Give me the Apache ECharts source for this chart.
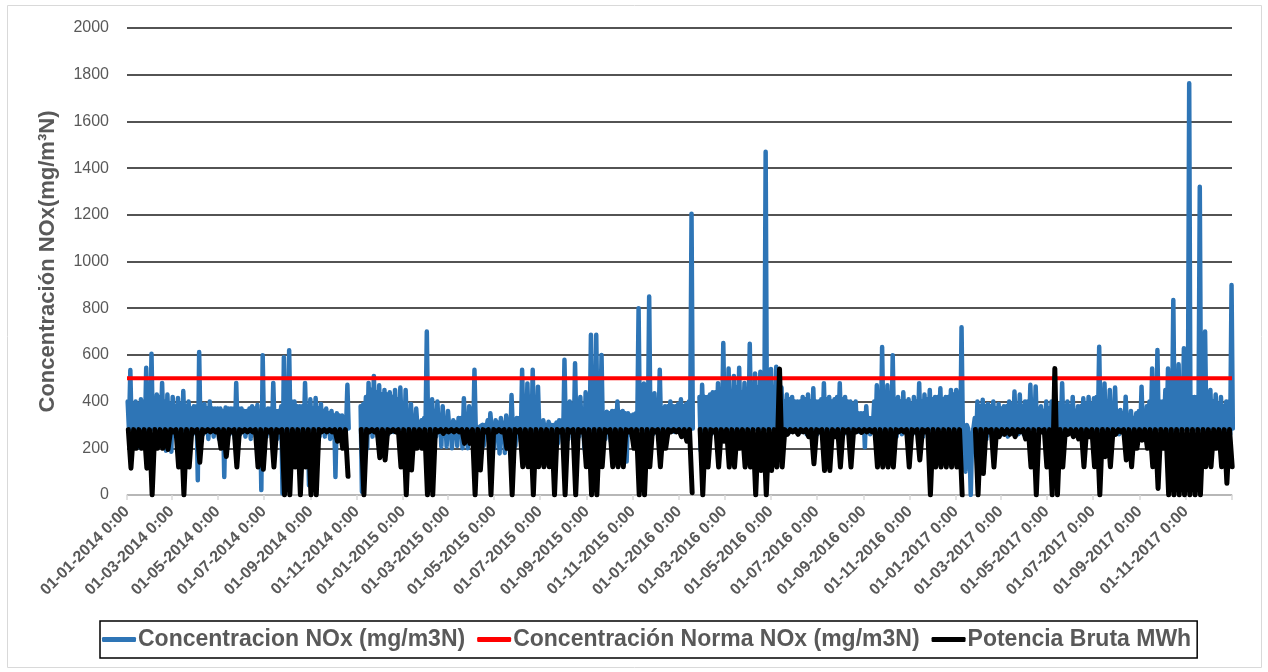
<!DOCTYPE html>
<html>
<head>
<meta charset="utf-8">
<script src="https://cdn.jsdelivr.net/npm/echarts@6/dist/echarts.min.js"></script>
<style>
html,body{margin:0;padding:0;background:#fff;}
#chart{width:1268px;height:672px;}
</style>
</head>
<body>
<div id="chart"></div>
<script>
// Time grid: weekly buckets starting 01-01-2014 (week i covers days 7i .. 7i+6)
const startYear = 2014;
const endYear = 2018;
const tickMonths = [1, 3, 5, 7, 9, 11];

// Concentracion NOx (mg/m3N): weekly peak, weekly dense-band top and weekly low
const noxHigh = [
  535,400,410,545,605,430,480,430,420,415,
  445,400,380,612,390,400,370,370,375,370,
  480,370,360,380,385,598,370,480,360,590,
  620,400,380,480,410,415,390,370,360,350,
  340,472,null,null,390,480,510,470,450,440,
  450,460,450,390,370,320,700,410,400,380,
  360,320,330,414,380,536,293,300,350,320,
  330,340,428,330,536,478,536,464,320,314,
  300,320,579,400,564,420,440,686,686,600,
  357,360,400,360,350,345,800,478,850,436,
  536,380,400,380,410,390,1205,null,472,420,
  440,479,651,542,510,545,480,648,520,528,
  1470,540,549,460,430,420,400,420,430,457,
  400,479,420,410,479,420,400,400,350,380,
  330,470,634,470,598,420,440,410,420,479,
  430,450,420,457,420,450,450,718,300,250,
  400,408,390,400,390,380,400,443,430,400,
  472,465,380,400,400,380,479,400,420,380,
  414,420,414,635,478,450,460,364,421,360,
  350,464,380,542,621,400,542,835,560,628,
  1763,420,1320,700,450,430,420,400,899
];
const noxBand = [
  400,390,390,400,420,410,420,400,390,380,
  390,380,370,380,370,370,370,370,360,370,
  370,370,360,370,370,360,360,370,360,380,
  400,400,380,380,380,370,370,360,350,340,
  340,330,null,null,380,420,450,440,430,430,
  420,410,370,350,320,310,330,350,360,340,
  320,300,310,330,330,300,290,300,320,300,
  310,310,320,320,330,340,330,320,310,300,
  300,310,320,330,340,340,350,360,360,350,
  350,350,360,355,350,340,350,360,360,350,
  360,370,380,380,390,380,400,null,420,420,
  430,440,450,450,440,460,440,450,460,460,
  470,470,460,420,400,410,400,400,410,400,
  400,410,410,400,420,410,400,390,350,350,
  330,400,430,420,420,410,400,400,390,400,
  400,410,410,420,410,420,430,350,280,200,
  330,380,380,380,370,370,380,390,380,380,
  400,400,370,360,370,380,390,380,380,360,
  380,390,390,420,410,400,390,360,350,330,
  330,360,360,400,420,400,450,480,460,450,
  440,420,420,420,410,400,390,380,400
];
const noxLow = [
  280,210,205,250,250,260,260,190,185,250,
  200,220,260,63,260,240,250,240,77,260,
  240,260,250,240,250,21,250,260,240,7,
  200,240,220,220,42,250,250,250,240,77,
  240,280,null,null,14,200,250,250,204,260,
  270,260,250,207,250,270,260,250,250,207,
  207,200,210,200,200,230,207,210,230,200,
  178,180,200,210,230,230,200,230,200,200,
  200,220,220,240,220,250,200,220,200,250,
  240,230,250,230,143,250,280,250,250,260,
  260,250,290,270,280,290,280,null,190,261,
  260,260,260,260,270,260,270,260,280,270,
  270,280,280,280,270,270,270,270,260,270,
  260,260,270,270,270,260,260,270,270,204,
  260,250,240,240,250,250,260,250,260,260,
  250,250,260,260,260,260,250,200,100,0,
  200,220,240,250,260,260,250,270,260,260,
  270,270,270,260,270,270,270,260,270,260,
  264,270,250,270,260,260,270,260,250,207,
  230,250,250,260,260,270,260,260,260,280,
  280,270,270,260,270,270,230,240,260
];
// bottom edge of the dense blue band, just at the black line
const noxBandBottom = 285;

// Concentración Norma NOx (mg/m3N)
const normaValue = 500;

// Potencia Bruta MWh: usual top level, weekly lows, and the two upward peaks
const potenciaTop = 280;
const potenciaLow = [
  115,200,200,115,0,200,200,195,270,120,
  0,120,270,140,270,270,270,200,165,270,
  120,270,270,270,120,110,270,120,270,0,
  0,120,0,120,0,0,270,270,270,230,
  200,80,null,null,0,270,270,160,150,270,
  270,120,0,107,200,200,0,0,270,264,
  270,270,270,221,221,0,107,270,0,270,
  270,200,0,270,121,121,0,121,121,121,
  0,270,0,270,0,270,121,0,0,121,
  270,121,121,121,270,200,0,0,121,270,
  121,200,270,270,250,230,10,null,0,120,
  270,120,230,120,120,200,120,120,0,105,
  0,105,120,120,260,270,260,270,250,134,
  270,105,105,250,120,270,120,270,268,270,
  270,120,120,120,120,270,270,120,270,150,
  270,0,120,120,120,120,120,0,null,null,
  0,92,270,120,250,260,260,250,270,240,
  120,0,270,120,0,0,120,260,250,240,
  121,250,121,0,164,121,260,270,150,121,
  200,235,200,121,28,200,0,0,0,0,
  0,0,0,121,121,200,121,50,121
];
const potenciaPeakWeeks = [123, 175];
const potenciaPeakValues = [540, 542];

const yTicks = [0,200,400,600,800,1000,1200,1400,1600,1800,2000];

// ---- build the library's data from the arrays ----
const DAY = 86400000;
const t0 = Date.UTC(startYear, 0, 1);
const totalDays = (Date.UTC(endYear, 0, 1) - t0) / DAY;

const noxData = [];
for (let i = 0; i < noxHigh.length; i++) {
  const d = 7 * i;
  if (noxHigh[i] == null) { noxData.push([d + 3.5, '-']); continue; }
  noxData.push([d + 0.9, noxBand[i]]);
  noxData.push([d + 2.6, noxLow[i]]);
  noxData.push([d + 4.4, noxHigh[i]]);
  noxData.push([d + 6.1, noxBandBottom]);
}
const potData = [];
for (let i = 0; i < potenciaLow.length; i++) {
  const d = 7 * i;
  if (potenciaLow[i] == null) { potData.push([d + 3.5, '-']); continue; }
  const k = potenciaPeakWeeks.indexOf(i);
  potData.push([d + 1.75, k >= 0 ? potenciaPeakValues[k] : potenciaTop]);
  potData.push([d + 5.25, potenciaLow[i]]);
}
const normaData = [[0, normaValue], [totalDays, normaValue]];

const tickDays = [];
for (let y = startYear; y < endYear; y++) {
  for (const m of tickMonths) tickDays.push((Date.UTC(y, m - 1, 1) - t0) / DAY);
}
const labelDays = tickDays.slice();
tickDays.push(totalDays);

function pad(n) { return (n < 10 ? '0' : '') + n; }
function fmtDay(v) {
  const dt = new Date(t0 + Math.round(v) * DAY);
  return pad(dt.getUTCDate()) + '-' + pad(dt.getUTCMonth() + 1) + '-' + dt.getUTCFullYear() + ' 0:00';
}

const chart = echarts.init(document.getElementById('chart'), null, {renderer: 'canvas'});
const FONT = '"Liberation Sans", Arial, sans-serif';
chart.setOption({
  animation: false,
  textStyle: {fontFamily: FONT},
  graphic: [{
    type: 'rect', shape: {x: 7.5, y: 5.5, width: 1254, height: 662},
    style: {fill: 'none', stroke: '#d9d9d9', lineWidth: 1}, silent: true, z: -1
  }],
  grid: {left: 127, right: 36, top: 28, bottom: 177, containLabel: false},
  legend: {
    left: 100, top: 621,
    data: ['Concentracion NOx (mg/m3N)', 'Concentración Norma NOx (mg/m3N)', 'Potencia Bruta MWh'],
    icon: 'roundRect', itemWidth: 34, itemHeight: 5, itemGap: 12,
    borderColor: '#000', borderWidth: 1.5, padding: [7, 6, 7, 2],
    textStyle: {fontFamily: FONT, fontSize: 23, fontWeight: 'bold', color: '#595959', padding: [0, 0, 0, -3]}
  },
  xAxis: {
    type: 'value', min: 0, max: totalDays,
    axisLine: {show: true, lineStyle: {color: '#d9d9d9', width: 1.5}},
    axisTick: {show: true, customValues: tickDays, length: 5, lineStyle: {color: '#d9d9d9', width: 1.5}},
    axisLabel: {
      customValues: labelDays, rotate: 45, margin: 14,
      fontFamily: FONT, fontSize: 16, fontWeight: 'bold', color: '#595959',
      formatter: fmtDay
    },
    splitLine: {show: false}
  },
  yAxis: {
    type: 'value', min: yTicks[0], max: yTicks[yTicks.length - 1], interval: 200,
    name: 'Concentración NOx(mg/m³N)', nameLocation: 'middle', nameGap: 68, nameRotate: 90,
    nameTextStyle: {fontFamily: FONT, fontSize: 22, fontWeight: 'bold', color: '#595959'},
    axisLine: {show: false}, axisTick: {show: false},
    axisLabel: {fontFamily: FONT, fontSize: 16, color: '#595959', margin: 18, formatter: v => String(v)},
    splitLine: {show: true, lineStyle: {color: '#1a1a1a', width: 1.5}}
  },
  series: [
    {name: 'Concentracion NOx (mg/m3N)', type: 'line', data: noxData, showSymbol: false, symbol: 'none',
     lineStyle: {color: '#2e75b6', width: 4.5, join: 'round', cap: 'round'}, itemStyle: {color: '#2e75b6'}, z: 2},
    {name: 'Concentración Norma NOx (mg/m3N)', type: 'line', data: normaData, showSymbol: false, symbol: 'none',
     lineStyle: {color: '#ff0000', width: 4}, itemStyle: {color: '#ff0000'}, z: 3},
    {name: 'Potencia Bruta MWh', type: 'line', data: potData, showSymbol: false, symbol: 'none',
     lineStyle: {color: '#000000', width: 5, join: 'round', cap: 'round'}, itemStyle: {color: '#000000'}, z: 4}
  ]
});
</script>
</body>
</html>
